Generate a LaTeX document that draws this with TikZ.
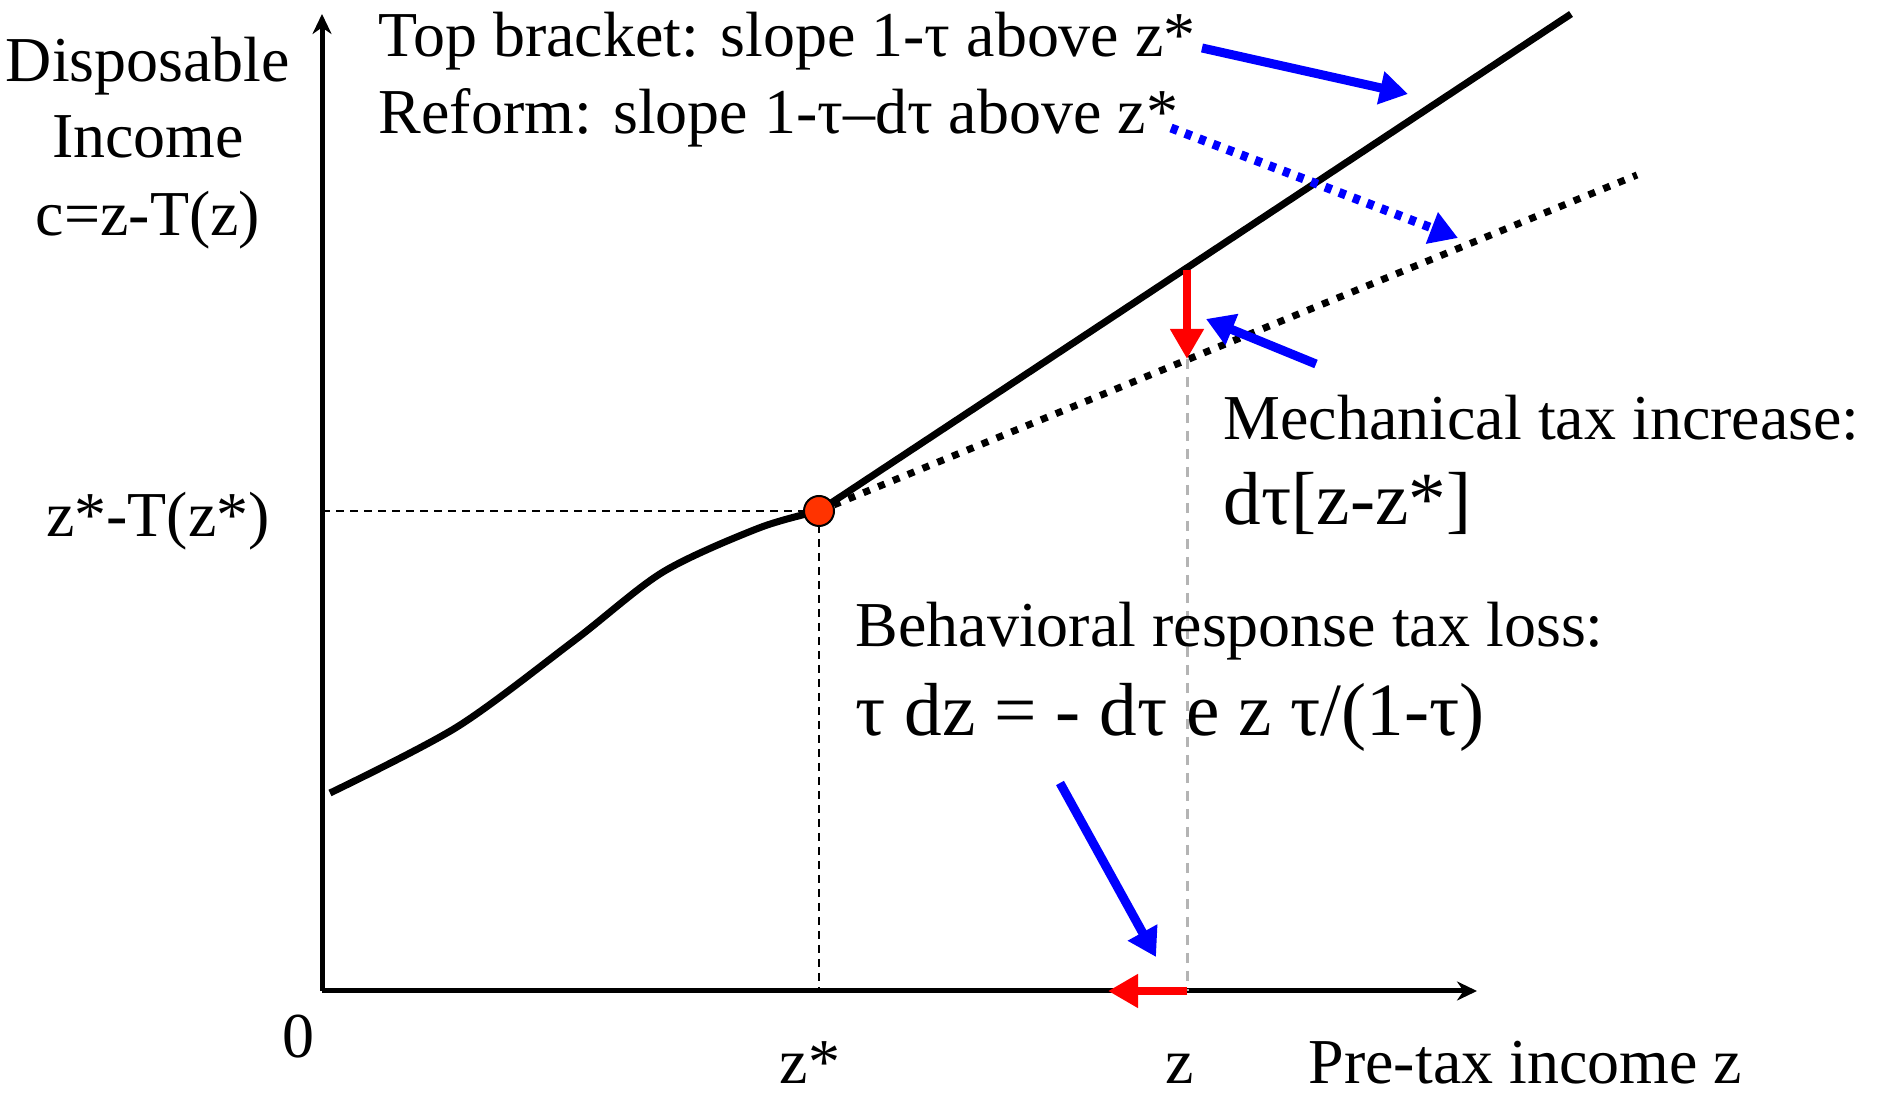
\documentclass[tikz,border=0pt]{standalone}
\usepackage{fontspec}
\setmainfont{Liberation Serif}
\usetikzlibrary{arrows.meta}
\definecolor{dotred}{HTML}{FF3300}
\definecolor{guidegray}{HTML}{B4B4B4}
\tikzset{
  % axes and curves
  axis/.style={line width=0.5mm, -{Stealth[length=2mm,width=1.9mm]}},
  schedule/.style={line width=0.7mm, line join=round},
  topline/.style={line width=0.7mm},
  reformline/.style={line width=0.7mm, dash pattern=on 0.7mm off 0.9mm},
  guide/.style={line width=0.2mm, dash pattern=on 0.8mm off 0.6mm},
  grayguide/.style={draw=guidegray, line width=0.3mm, dash pattern=on 1mm off 0.8mm},
  % pointers
  bluearrow/.style={draw=blue, line width=0.9mm,
                    -{Triangle[length=2.8mm,width=3.2mm]}, blue},
  bluedots/.style={bluearrow, dash pattern=on 0.7mm off 0.8mm},
  redarrow/.style={draw=red, line width=0.8mm,
                   -{Triangle[length=3mm,width=3.2mm]}, red},
  zdot/.style={circle, draw=black, line width=0.2mm, fill=dotred,
               minimum size=3mm, inner sep=0pt},
  % texts
  lbl/.style={font=\fontsize{18.2}{21.8}\selectfont, inner sep=0pt, anchor=base west},
  biglbl/.style={lbl, font=\fontsize{21.4}{25}\selectfont},
  tick/.style={lbl, anchor=base},
}

\begin{document}
\begin{tikzpicture}
\useasboundingbox (0,0) rectangle (18.85,11.00);

% ── Axes ──────────────────────────────────────────────────────────────────────
\coordinate (origin) at (3.22,1.09);
\coordinate (ytop)   at (3.22,10.86);
\coordinate (xend)   at (14.77,1.09);
\draw[axis] (origin) -- (ytop);
\draw[axis] (origin) -- (xend);

% ── Kink point z* and guides ──────────────────────────────────────────────────
\coordinate (zsy) at (3.22,5.89);
\coordinate (zsx) at (8.19,1.09);
\draw[guide] (zsy) -- (8.19,5.89);
\draw[guide] (8.19,5.89) -- (zsx);

% ── Tax schedule below z* ─────────────────────────────────────────────────────
\draw[schedule] plot[smooth] coordinates {
  (3.30,3.07) (4.57,3.73) (5.75,4.60) (6.63,5.28) (7.59,5.72) (8.19,5.89)};

% ── Top bracket and reform lines ──────────────────────────────────────────────
\coordinate (topend)    at (15.71,10.86);
\coordinate (reformend) at (16.37,9.25);
\draw[topline]    (8.19,5.89) -- (topend);
\draw[reformline] (8.19,5.89) -- (reformend);
\node[zdot] (zstar) at (8.19,5.89) {};

% ── Income z ──────────────────────────────────────────────────────────────────
\coordinate (zold) at (11.87,8.30);
\coordinate (znew) at (11.87,7.41);
\coordinate (zx)   at (11.87,1.09);
\draw[grayguide] (znew) -- (zx);
\draw[redarrow] (zold) -- (znew);
\draw[redarrow] (zx) -- (11.08,1.09);

% ── Labels ────────────────────────────────────────────────────────────────────
\node[tick] (ylab1) at (1.48,10.18) {Disposable};
\node[tick] (ylab2) at (1.48,9.42)  {Income};
\node[tick] (ylab3) at (1.48,8.64)  {c=z-T(z)};
\node[tick] (cstar) at (1.58,5.63)  {z*-T(z*)};
\node[tick] (zero)  at (2.98,0.42)  {0};
\node[tick] (zslab) at (8.10,0.16)  {z*};
\node[tick] (zlab)  at (11.80,0.16) {z};
\node[lbl]  (xlab)  at (13.08,0.16) {Pre-tax income z};

\node[lbl] (toptxt)    at (3.78,10.43) {Top bracket: slope 1-τ above z*};
\node[lbl] (reformtxt) at (3.78,9.66)  {Reform: slope 1-τ–dτ above z*};
\node[lbl]    (mechtxt) at (12.23,6.60) {Mechanical tax increase:};
\node[biglbl] (mecheq)  at (12.23,5.75) {dτ[z-z*]};
\node[lbl]    (behtxt)  at (8.55,4.53)  {Behavioral response tax loss:};
\node[biglbl] (beheq)   at (8.55,3.64)  {τ dz = - dτ e z τ/(1-τ)};

% ── Pointers ──────────────────────────────────────────────────────────────────
\coordinate (p1) at (12.02,10.52);
\coordinate (p1t) at (14.08,10.06);
\coordinate (p2) at (11.71,9.72);
\coordinate (p2t) at (14.58,8.62);
\coordinate (p3) at (13.16,7.36);
\coordinate (p3t) at (12.06,7.81);
\coordinate (p4) at (10.60,3.17);
\coordinate (p4t) at (11.56,1.43);
\draw[bluearrow] (p1) -- (p1t);
\draw[bluedots]  (p2) -- (p2t);
\draw[bluearrow] (p3) -- (p3t);
\draw[bluearrow] (p4) -- (p4t);

\end{tikzpicture}
\end{document}
